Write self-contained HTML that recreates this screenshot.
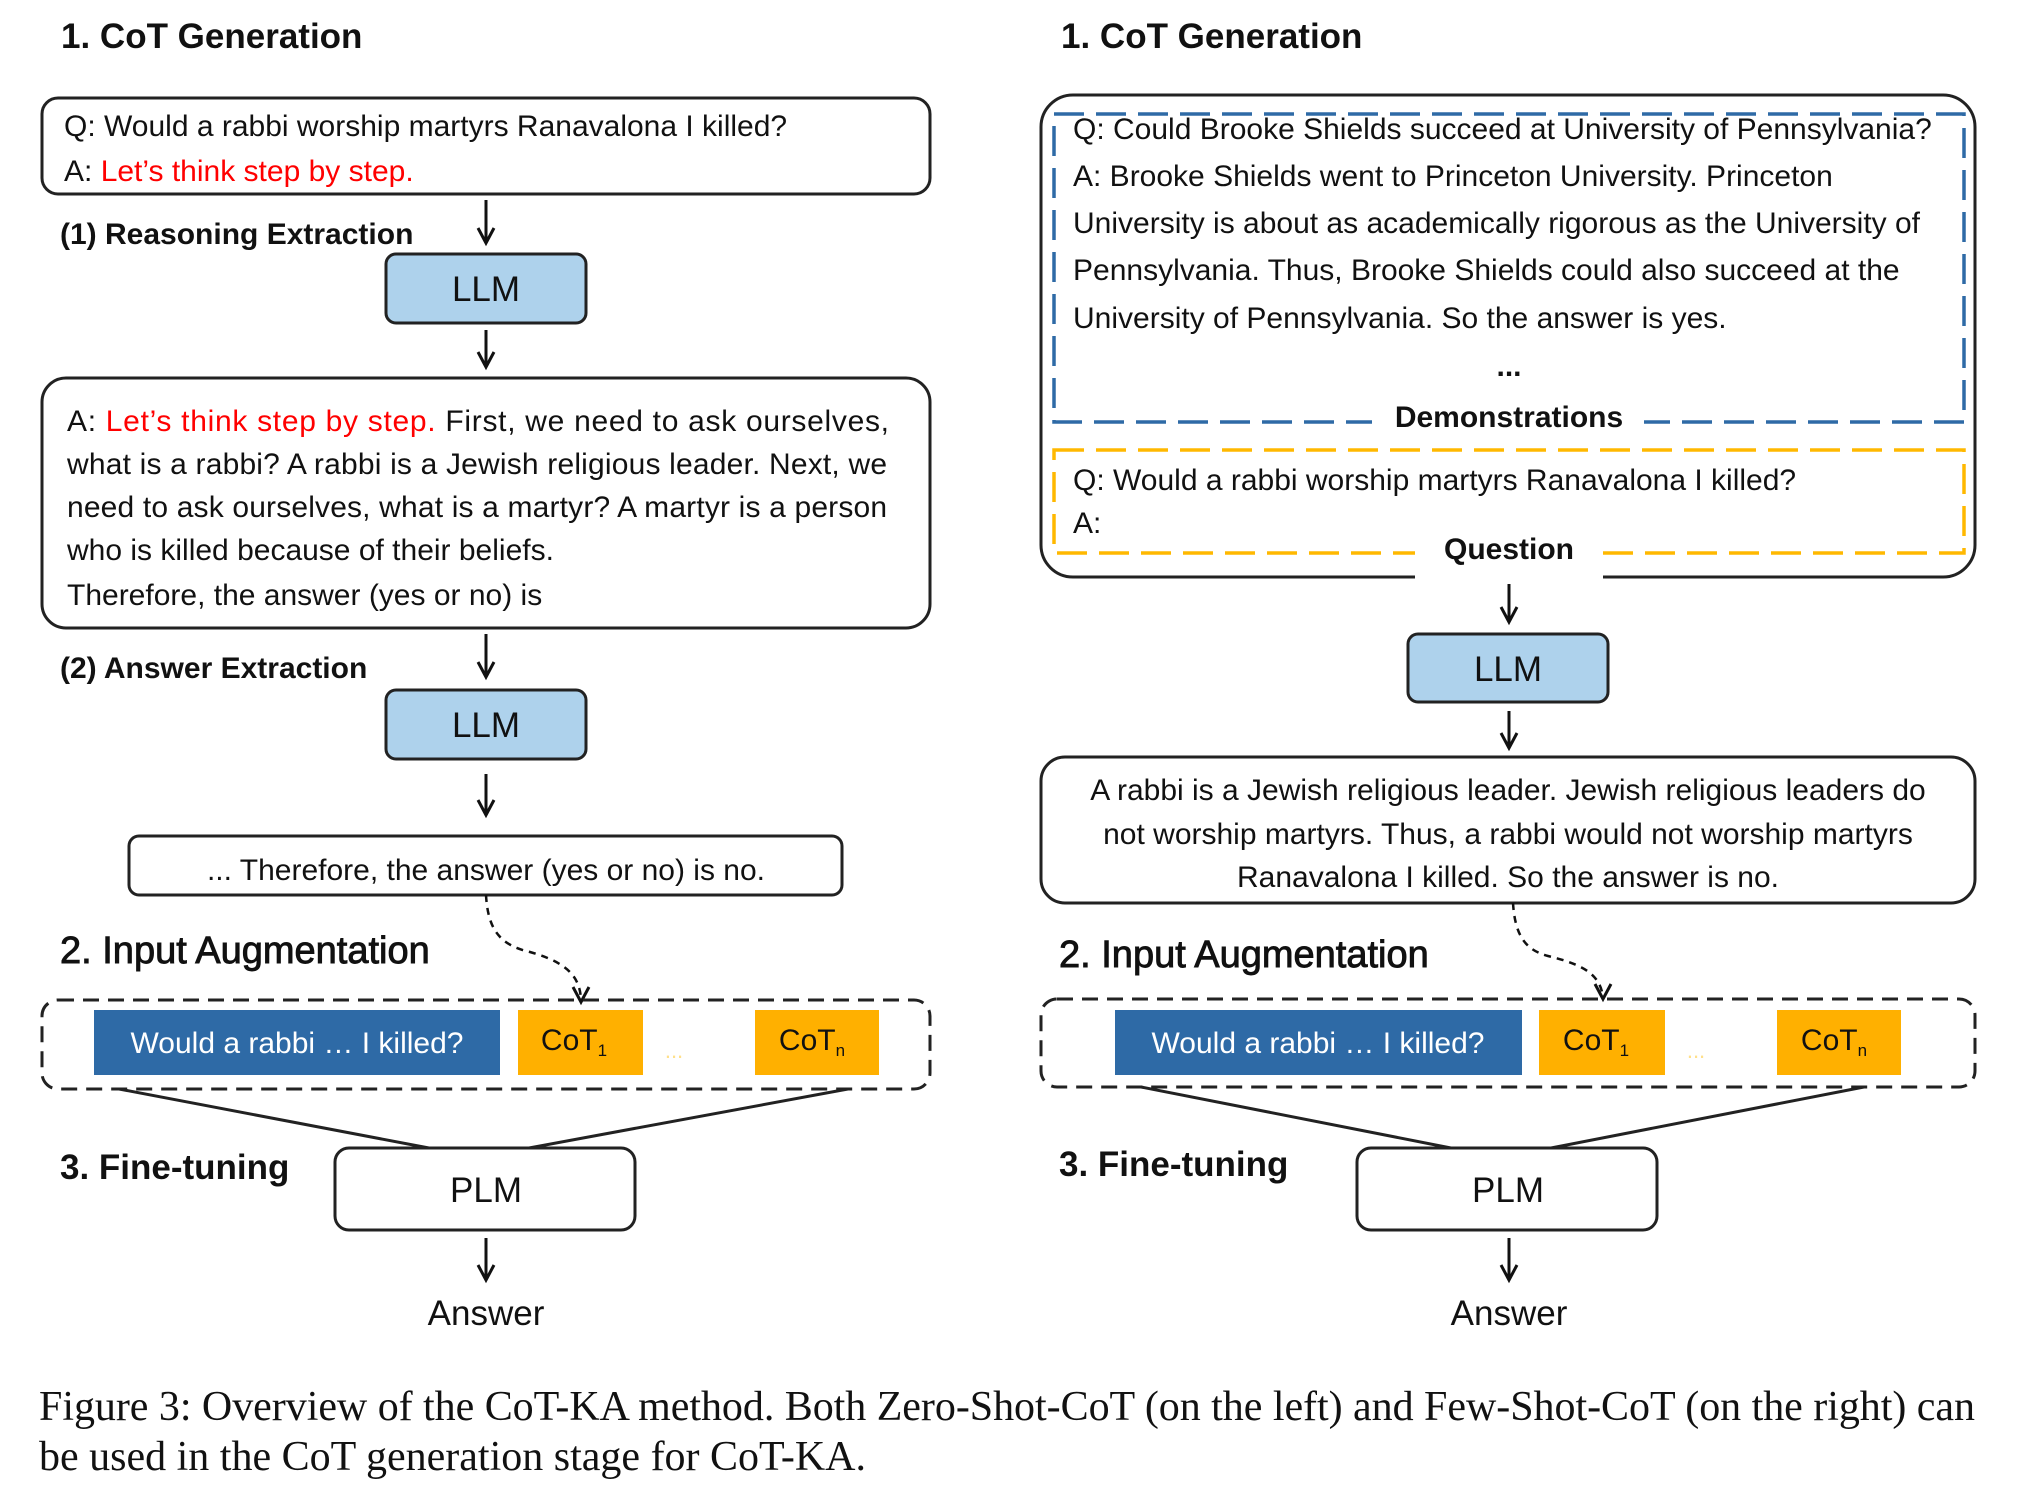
<!DOCTYPE html>
<html><head><meta charset="utf-8"><style>
html,body{margin:0;padding:0;background:#fff;}
svg{display:block;}
text{font-family:"Liberation Sans",Arial,sans-serif;fill:#111;}
.t{font-size:30px;}
.b{font-weight:bold;}
.h{font-size:35px;font-weight:bold;}
.s{font-size:38px;stroke:#111;stroke-width:0.9px;}
.big{font-size:35px;}
.cap{font-family:"Liberation Serif","Times New Roman",serif;font-size:42px;}
</style></head><body>
<svg width="2018" height="1496" viewBox="0 0 2018 1496" xmlns="http://www.w3.org/2000/svg">
<defs>
<g id="ah"><polyline points="-8,-15 0,0 8,-15" fill="none" stroke="#111" stroke-width="3"/></g>
</defs>
<!-- ========== LEFT ========== -->
<text class="h" x="61" y="48">1. CoT Generation</text>
<rect x="42" y="98" width="888" height="96" rx="16" fill="none" stroke="#222" stroke-width="3"/>
<text class="t" x="64" y="136">Q: Would a rabbi worship martyrs Ranavalona I killed?</text>
<text class="t" x="64" y="181">A: <tspan style="fill:#f00">Let’s think step by step.</tspan></text>
<line x1="486" y1="200" x2="486" y2="242" stroke="#111" stroke-width="3"/><use href="#ah" x="486" y="243"/>
<text class="t b" x="60" y="244">(1) Reasoning Extraction</text>
<rect x="386" y="254" width="200" height="69" rx="10" fill="#aed2ec" stroke="#222" stroke-width="3"/>
<text class="big" x="486" y="301" text-anchor="middle">LLM</text>
<line x1="486" y1="330" x2="486" y2="366" stroke="#111" stroke-width="3"/><use href="#ah" x="486" y="367"/>
<rect x="42" y="378" width="888" height="250" rx="24" fill="none" stroke="#222" stroke-width="3"/>
<text class="t" x="67" y="431" textLength="822" lengthAdjust="spacing">A: <tspan style="fill:#f00">Let’s think step by step.</tspan> First, we need to ask ourselves,</text>
<text class="t" x="67" y="474" textLength="820" lengthAdjust="spacing">what is a rabbi? A rabbi is a Jewish religious leader. Next, we</text>
<text class="t" x="67" y="517" textLength="820" lengthAdjust="spacing">need to ask ourselves, what is a martyr? A martyr is a person</text>
<text class="t" x="67" y="560">who is killed because of their beliefs.</text>
<text class="t" x="67" y="605">Therefore, the answer (yes or no) is</text>
<line x1="486" y1="634" x2="486" y2="676" stroke="#111" stroke-width="3"/><use href="#ah" x="486" y="677"/>
<text class="t b" x="60" y="678">(2) Answer Extraction</text>
<rect x="386" y="690" width="200" height="69" rx="10" fill="#aed2ec" stroke="#222" stroke-width="3"/>
<text class="big" x="486" y="737" text-anchor="middle">LLM</text>
<line x1="486" y1="774" x2="486" y2="814" stroke="#111" stroke-width="3"/><use href="#ah" x="486" y="815"/>
<rect x="129" y="836" width="713" height="59" rx="10" fill="none" stroke="#222" stroke-width="3"/>
<text class="t" x="486" y="880" text-anchor="middle">... Therefore, the answer (yes or no) is no.</text>
<path d="M486,895 C488,930 500,945 530,952 C565,962 580,975 581,1000" fill="none" stroke="#111" stroke-width="2.5" stroke-dasharray="7,6"/>
<use href="#ah" x="581" y="1002"/>
<text class="s" x="60" y="963">2. Input Augmentation</text>
<rect x="42" y="1000" width="888" height="89" rx="16" fill="none" stroke="#222" stroke-width="3" stroke-dasharray="16,9"/>
<rect x="94" y="1010" width="406" height="65" fill="#2e6aa6"/>
<text class="t" x="297" y="1053" text-anchor="middle" style="fill:#fff">Would a rabbi … I killed?</text>
<rect x="518" y="1010" width="125" height="65" fill="#ffb000"/>
<text class="t" x="574" y="1050" text-anchor="middle">CoT<tspan font-size="17" dy="6">1</tspan></text>
<text x="674" y="1058" font-size="22" text-anchor="middle" style="fill:#ffe08a">...</text>
<rect x="755" y="1010" width="124" height="65" fill="#ffb000"/>
<text class="t" x="812" y="1050" text-anchor="middle">CoT<tspan font-size="17" dy="6">n</tspan></text>
<line x1="119" y1="1089" x2="429" y2="1148" stroke="#222" stroke-width="3"/>
<line x1="848" y1="1089" x2="529" y2="1148" stroke="#222" stroke-width="3"/>
<text class="h" x="60" y="1179">3. Fine-tuning</text>
<rect x="335" y="1148" width="300" height="82" rx="14" fill="#fff" stroke="#222" stroke-width="3"/>
<text class="big" x="486" y="1202" text-anchor="middle">PLM</text>
<line x1="486" y1="1238" x2="486" y2="1279" stroke="#111" stroke-width="3"/><use href="#ah" x="486" y="1280"/>
<text class="big" x="486" y="1325" text-anchor="middle">Answer</text>
<!-- ========== RIGHT ========== -->
<text class="h" x="1061" y="48">1. CoT Generation</text>
<rect x="1041" y="95" width="934" height="482" rx="32" fill="none" stroke="#222" stroke-width="3"/>
<rect x="1054" y="114" width="910" height="308" fill="none" stroke="#2e6aa6" stroke-width="3.5" stroke-dasharray="30,12"/>
<text class="t" x="1073" y="139">Q: Could Brooke Shields succeed at University of Pennsylvania?</text>
<text class="t" x="1073" y="186">A: Brooke Shields went to Princeton University. Princeton</text>
<text class="t" x="1073" y="233">University is about as academically rigorous as the University of</text>
<text class="t" x="1073" y="280">Pennsylvania. Thus, Brooke Shields could also succeed at the</text>
<text class="t" x="1073" y="328">University of Pennsylvania. So the answer is yes.</text>
<text class="t b" x="1509" y="376" text-anchor="middle">...</text>
<rect x="1372" y="408" width="272" height="30" fill="#fff"/>
<text class="t b" x="1509" y="427" text-anchor="middle">Demonstrations</text>
<rect x="1054" y="450" width="910" height="103" fill="none" stroke="#ffb800" stroke-width="3.5" stroke-dasharray="30,12"/>
<text class="t" x="1073" y="490">Q: Would a rabbi worship martyrs Ranavalona I killed?</text>
<text class="t" x="1073" y="533">A:</text>
<rect x="1415" y="540" width="188" height="40" fill="#fff"/>
<text class="t b" x="1509" y="559" text-anchor="middle">Question</text>
<line x1="1509" y1="584" x2="1509" y2="621" stroke="#111" stroke-width="3"/><use href="#ah" x="1509" y="622"/>
<rect x="1408" y="634" width="200" height="68" rx="10" fill="#aed2ec" stroke="#222" stroke-width="3"/>
<text class="big" x="1508" y="681" text-anchor="middle">LLM</text>
<line x1="1509" y1="711" x2="1509" y2="747" stroke="#111" stroke-width="3"/><use href="#ah" x="1509" y="748"/>
<rect x="1041" y="757" width="934" height="146" rx="24" fill="none" stroke="#222" stroke-width="3"/>
<text class="t" x="1508" y="800" text-anchor="middle">A rabbi is a Jewish religious leader. Jewish religious leaders do</text>
<text class="t" x="1508" y="844" text-anchor="middle">not worship martyrs. Thus, a rabbi would not worship martyrs</text>
<text class="t" x="1508" y="887" text-anchor="middle">Ranavalona I killed. So the answer is no.</text>
<path d="M1513,903 C1515,935 1525,950 1548,956 C1585,965 1600,975 1603,997" fill="none" stroke="#111" stroke-width="2.5" stroke-dasharray="7,6"/>
<use href="#ah" x="1603" y="999"/>
<text class="s" x="1059" y="967">2. Input Augmentation</text>
<rect x="1041" y="999" width="934" height="88" rx="16" fill="none" stroke="#222" stroke-width="3" stroke-dasharray="16,9"/>
<rect x="1115" y="1010" width="407" height="65" fill="#2e6aa6"/>
<text class="t" x="1318" y="1053" text-anchor="middle" style="fill:#fff">Would a rabbi … I killed?</text>
<rect x="1539" y="1010" width="126" height="65" fill="#ffb000"/>
<text class="t" x="1596" y="1050" text-anchor="middle">CoT<tspan font-size="17" dy="6">1</tspan></text>
<text x="1696" y="1058" font-size="22" text-anchor="middle" style="fill:#ffe08a">...</text>
<rect x="1777" y="1010" width="124" height="65" fill="#ffb000"/>
<text class="t" x="1834" y="1050" text-anchor="middle">CoT<tspan font-size="17" dy="6">n</tspan></text>
<line x1="1141" y1="1087" x2="1451" y2="1148" stroke="#222" stroke-width="3"/>
<line x1="1864" y1="1087" x2="1551" y2="1148" stroke="#222" stroke-width="3"/>
<text class="h" x="1059" y="1176">3. Fine-tuning</text>
<rect x="1357" y="1148" width="300" height="82" rx="14" fill="#fff" stroke="#222" stroke-width="3"/>
<text class="big" x="1508" y="1202" text-anchor="middle">PLM</text>
<line x1="1509" y1="1238" x2="1509" y2="1279" stroke="#111" stroke-width="3"/><use href="#ah" x="1509" y="1280"/>
<text class="big" x="1509" y="1325" text-anchor="middle">Answer</text>
<!-- caption -->
<text class="cap" x="39" y="1420" textLength="1936" lengthAdjust="spacing">Figure 3: Overview of the CoT-KA method. Both Zero-Shot-CoT (on the left) and Few-Shot-CoT (on the right) can</text>
<text class="cap" x="39" y="1470">be used in the CoT generation stage for CoT-KA.</text>
</svg>
</body></html>
